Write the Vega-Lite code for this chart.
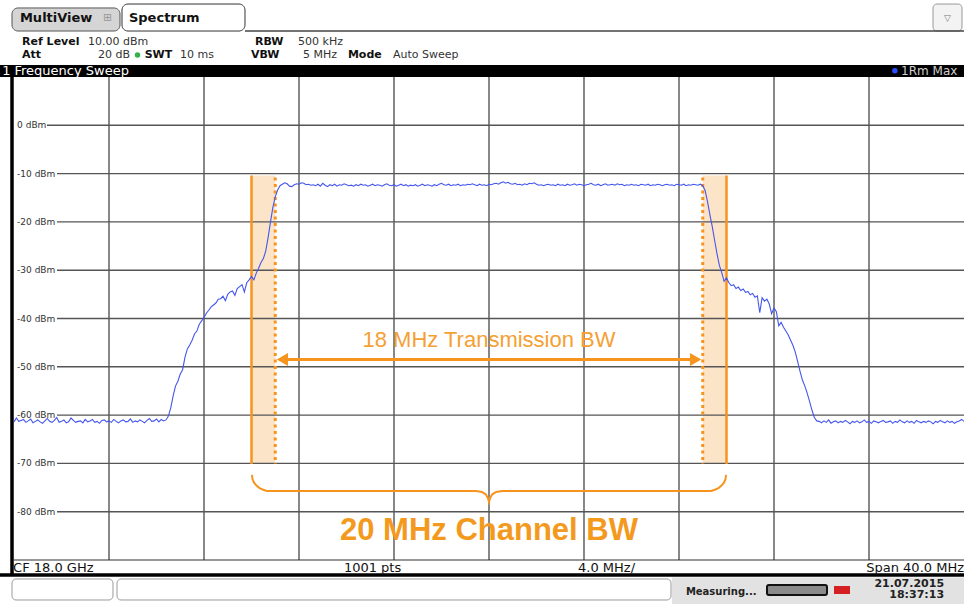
{
  "$schema": "https://vega.github.io/schema/vega-lite/v6.json",
  "width": 950,
  "height": 483,
  "autosize": {"type": "none"},
  "padding": {"left": 14, "top": 77, "right": 0, "bottom": 44},
  "background": "#ffffff",
  "config": {"view": {"stroke": null}, "font": "DejaVu Sans"},
  "datasets": {
    "trace": [
      {"f":-20.0,"p":-61.4},{"f":-19.9,"p":-60.6},{"f":-19.8,"p":-61.3},{"f":-19.7,"p":-61.1},{"f":-19.6,"p":-60.9},{"f":-19.5,"p":-61.5},{"f":-19.4,"p":-61.2},{"f":-19.3,"p":-60.8},{"f":-19.2,"p":-61.6},{"f":-19.1,"p":-61.3},
      {"f":-19.0,"p":-61.0},{"f":-18.9,"p":-61.4},{"f":-18.8,"p":-61.7},{"f":-18.7,"p":-61.2},{"f":-18.6,"p":-60.7},{"f":-18.5,"p":-61.3},{"f":-18.4,"p":-61.5},{"f":-18.3,"p":-61.1},{"f":-18.2,"p":-60.5},{"f":-18.1,"p":-61.5},
      {"f":-18.0,"p":-61.3},{"f":-17.9,"p":-61.0},{"f":-17.8,"p":-61.6},{"f":-17.7,"p":-61.4},{"f":-17.6,"p":-60.6},{"f":-17.5,"p":-61.1},{"f":-17.4,"p":-61.5},{"f":-17.3,"p":-61.3},{"f":-17.2,"p":-61.2},{"f":-17.1,"p":-61.6},
      {"f":-17.0,"p":-60.9},{"f":-16.9,"p":-61.4},{"f":-16.8,"p":-61.2},{"f":-16.7,"p":-60.9},{"f":-16.6,"p":-61.5},{"f":-16.5,"p":-61.3},{"f":-16.4,"p":-61.7},{"f":-16.3,"p":-61.1},{"f":-16.2,"p":-61.0},{"f":-16.1,"p":-61.4},
      {"f":-16.0,"p":-61.2},{"f":-15.9,"p":-61.5},{"f":-15.8,"p":-60.9},{"f":-15.7,"p":-61.3},{"f":-15.6,"p":-61.6},{"f":-15.5,"p":-61.2},{"f":-15.4,"p":-61.0},{"f":-15.3,"p":-61.4},{"f":-15.2,"p":-61.3},{"f":-15.1,"p":-60.8},
      {"f":-15.0,"p":-61.5},{"f":-14.9,"p":-61.2},{"f":-14.8,"p":-61.4},{"f":-14.7,"p":-61.0},{"f":-14.6,"p":-61.3},{"f":-14.5,"p":-61.6},{"f":-14.4,"p":-61.1},{"f":-14.3,"p":-60.7},{"f":-14.2,"p":-61.3},{"f":-14.1,"p":-61.2},
      {"f":-14.0,"p":-60.8},{"f":-13.9,"p":-61.4},{"f":-13.8,"p":-60.9},{"f":-13.7,"p":-61.2},
      {"f":-13.6,"p":-61.0},{"f":-13.5,"p":-60.2},{"f":-13.4,"p":-58.5},{"f":-13.3,"p":-56.0},{"f":-13.2,"p":-54.0},{"f":-13.1,"p":-53.0},{"f":-13.0,"p":-51.5},{"f":-12.9,"p":-50.6},{"f":-12.8,"p":-48.0},{"f":-12.7,"p":-46.3},
      {"f":-12.6,"p":-45.5},{"f":-12.5,"p":-44.5},{"f":-12.4,"p":-43.2},{"f":-12.3,"p":-42.6},{"f":-12.2,"p":-41.2},{"f":-12.1,"p":-40.5},{"f":-12.0,"p":-39.8},{"f":-11.9,"p":-38.9},{"f":-11.8,"p":-38.3},{"f":-11.7,"p":-37.6},
      {"f":-11.6,"p":-37.2},{"f":-11.5,"p":-36.8},{"f":-11.4,"p":-36.0},{"f":-11.3,"p":-35.9},{"f":-11.2,"p":-35.4},{"f":-11.1,"p":-36.3},{"f":-11.0,"p":-35.0},{"f":-10.9,"p":-34.5},{"f":-10.8,"p":-34.3},{"f":-10.7,"p":-35.2},
      {"f":-10.6,"p":-33.8},{"f":-10.5,"p":-33.4},{"f":-10.4,"p":-33.0},{"f":-10.3,"p":-34.5},{"f":-10.2,"p":-32.6},{"f":-10.1,"p":-32.0},{"f":-10.0,"p":-31.3},{"f":-9.9,"p":-32.0},{"f":-9.8,"p":-30.6},{"f":-9.7,"p":-29.6},
      {"f":-9.6,"p":-28.4},{"f":-9.5,"p":-27.6},{"f":-9.4,"p":-26.0},{"f":-9.3,"p":-23.2},{"f":-9.2,"p":-20.0},{"f":-9.1,"p":-17.0},{"f":-9.0,"p":-14.8},{"f":-8.9,"p":-13.4},{"f":-8.8,"p":-12.5},{"f":-8.7,"p":-12.2},{"f":-8.6,"p":-11.9},
      {"f":-8.5,"p":-12.1},{"f":-8.4,"p":-12.6},{"f":-8.3,"p":-12.7},{"f":-8.2,"p":-12.3},{"f":-8.1,"p":-12.1},{"f":-8.0,"p":-12.2},{"f":-7.9,"p":-11.9},{"f":-7.8,"p":-12.0},{"f":-7.7,"p":-12.3},{"f":-7.6,"p":-12.2},
      {"f":-7.5,"p":-12.4},{"f":-7.4,"p":-12.3},{"f":-7.3,"p":-12.5},{"f":-7.2,"p":-12.2},{"f":-7.1,"p":-12.6},{"f":-7.0,"p":-12.0},{"f":-6.9,"p":-12.4},{"f":-6.8,"p":-12.7},{"f":-6.7,"p":-12.3},{"f":-6.6,"p":-12.5},
      {"f":-6.5,"p":-12.2},{"f":-6.4,"p":-12.6},{"f":-6.3,"p":-12.3},{"f":-6.2,"p":-12.4},{"f":-6.1,"p":-12.1},{"f":-6.0,"p":-12.3},{"f":-5.9,"p":-12.5},{"f":-5.8,"p":-12.4},{"f":-5.7,"p":-12.6},{"f":-5.6,"p":-12.3},
      {"f":-5.5,"p":-12.5},{"f":-5.4,"p":-12.2},{"f":-5.3,"p":-12.4},{"f":-5.2,"p":-12.3},{"f":-5.1,"p":-12.6},{"f":-5.0,"p":-12.4},{"f":-4.9,"p":-12.2},{"f":-4.8,"p":-12.5},{"f":-4.7,"p":-12.3},{"f":-4.6,"p":-12.4},
      {"f":-4.5,"p":-12.6},{"f":-4.4,"p":-12.3},{"f":-4.3,"p":-12.1},{"f":-4.2,"p":-12.4},{"f":-4.1,"p":-12.5},{"f":-4.0,"p":-12.3},{"f":-3.9,"p":-12.6},{"f":-3.8,"p":-12.4},{"f":-3.7,"p":-12.2},{"f":-3.6,"p":-12.5},
      {"f":-3.5,"p":-12.3},{"f":-3.4,"p":-12.6},{"f":-3.3,"p":-12.4},{"f":-3.2,"p":-12.5},{"f":-3.1,"p":-12.3},{"f":-3.0,"p":-12.6},{"f":-2.9,"p":-12.4},{"f":-2.8,"p":-12.2},{"f":-2.7,"p":-12.5},{"f":-2.6,"p":-12.3},
      {"f":-2.5,"p":-12.4},{"f":-2.4,"p":-12.6},{"f":-2.3,"p":-12.3},{"f":-2.2,"p":-12.5},{"f":-2.1,"p":-12.2},{"f":-2.0,"p":-12.0},{"f":-1.9,"p":-12.3},{"f":-1.8,"p":-12.4},{"f":-1.7,"p":-12.2},{"f":-1.6,"p":-12.5},
      {"f":-1.5,"p":-12.3},{"f":-1.4,"p":-12.4},{"f":-1.3,"p":-12.2},{"f":-1.2,"p":-12.5},{"f":-1.1,"p":-12.3},{"f":-1.0,"p":-12.4},{"f":-0.9,"p":-12.2},{"f":-0.8,"p":-12.3},{"f":-0.7,"p":-12.1},{"f":-0.6,"p":-12.3},
      {"f":-0.5,"p":-12.5},{"f":-0.4,"p":-12.2},{"f":-0.3,"p":-12.4},{"f":-0.2,"p":-12.3},{"f":-0.1,"p":-12.5},{"f":0.0,"p":-12.2},{"f":0.1,"p":-12.3},{"f":0.2,"p":-12.1},{"f":0.3,"p":-12.0},{"f":0.4,"p":-12.2},
      {"f":0.5,"p":-11.9},{"f":0.6,"p":-11.7},{"f":0.7,"p":-12.0},{"f":0.8,"p":-11.8},{"f":0.9,"p":-12.1},{"f":1.0,"p":-12.2},{"f":1.1,"p":-12.0},{"f":1.2,"p":-12.3},{"f":1.3,"p":-12.2},{"f":1.4,"p":-12.4},
      {"f":1.5,"p":-12.1},{"f":1.6,"p":-12.3},{"f":1.7,"p":-12.0},{"f":1.8,"p":-12.1},{"f":1.9,"p":-11.9},{"f":2.0,"p":-12.2},{"f":2.1,"p":-12.4},{"f":2.2,"p":-12.3},{"f":2.3,"p":-12.5},{"f":2.4,"p":-12.3},
      {"f":2.5,"p":-12.2},{"f":2.6,"p":-12.4},{"f":2.7,"p":-12.3},{"f":2.8,"p":-12.5},{"f":2.9,"p":-12.2},{"f":3.0,"p":-12.4},{"f":3.1,"p":-12.3},{"f":3.2,"p":-12.5},{"f":3.3,"p":-12.2},{"f":3.4,"p":-12.4},
      {"f":3.5,"p":-12.3},{"f":3.6,"p":-12.1},{"f":3.7,"p":-12.4},{"f":3.8,"p":-12.2},{"f":3.9,"p":-12.3},{"f":4.0,"p":-12.5},{"f":4.1,"p":-12.3},{"f":4.2,"p":-12.2},{"f":4.3,"p":-12.0},{"f":4.4,"p":-12.3},
      {"f":4.5,"p":-12.4},{"f":4.6,"p":-12.2},{"f":4.7,"p":-12.5},{"f":4.8,"p":-12.3},{"f":4.9,"p":-12.1},{"f":5.0,"p":-12.4},{"f":5.1,"p":-12.3},{"f":5.2,"p":-12.2},{"f":5.3,"p":-12.4},{"f":5.4,"p":-12.1},
      {"f":5.5,"p":-12.3},{"f":5.6,"p":-12.2},{"f":5.7,"p":-12.5},{"f":5.8,"p":-12.3},{"f":5.9,"p":-12.4},{"f":6.0,"p":-12.2},{"f":6.1,"p":-12.4},{"f":6.2,"p":-12.3},{"f":6.3,"p":-12.5},{"f":6.4,"p":-12.2},
      {"f":6.5,"p":-12.3},{"f":6.6,"p":-12.4},{"f":6.7,"p":-12.2},{"f":6.8,"p":-12.5},{"f":6.9,"p":-12.3},{"f":7.0,"p":-12.4},{"f":7.1,"p":-12.2},{"f":7.2,"p":-12.3},{"f":7.3,"p":-12.5},{"f":7.4,"p":-12.3},
      {"f":7.5,"p":-12.2},{"f":7.6,"p":-12.4},{"f":7.7,"p":-12.3},{"f":7.8,"p":-12.5},{"f":7.9,"p":-12.2},{"f":8.0,"p":-12.3},{"f":8.1,"p":-12.4},{"f":8.2,"p":-12.2},{"f":8.3,"p":-12.5},{"f":8.4,"p":-12.3},
      {"f":8.5,"p":-12.4},{"f":8.6,"p":-12.2},{"f":8.7,"p":-12.3},{"f":8.8,"p":-12.4},{"f":8.9,"p":-12.2},{"f":9.0,"p":-12.5},
      {"f":9.1,"p":-13.5},{"f":9.2,"p":-15.8},{"f":9.3,"p":-18.5},{"f":9.4,"p":-21.0},{"f":9.5,"p":-23.8},{"f":9.6,"p":-26.6},{"f":9.7,"p":-29.0},{"f":9.8,"p":-30.5},{"f":9.9,"p":-32.3},{"f":10.0,"p":-31.6},
      {"f":10.1,"p":-32.6},{"f":10.2,"p":-33.2},{"f":10.3,"p":-33.0},{"f":10.4,"p":-33.8},{"f":10.5,"p":-33.5},{"f":10.6,"p":-34.2},{"f":10.7,"p":-33.9},{"f":10.8,"p":-34.6},{"f":10.9,"p":-34.4},{"f":11.0,"p":-35.1},
      {"f":11.1,"p":-34.8},{"f":11.2,"p":-35.6},{"f":11.3,"p":-35.3},{"f":11.4,"p":-38.8},{"f":11.5,"p":-35.7},{"f":11.6,"p":-36.4},{"f":11.7,"p":-36.0},{"f":11.8,"p":-37.0},{"f":11.9,"p":-39.0},{"f":12.0,"p":-37.8},
      {"f":12.1,"p":-38.6},{"f":12.2,"p":-41.5},{"f":12.3,"p":-40.8},{"f":12.4,"p":-41.8},{"f":12.5,"p":-42.6},{"f":12.6,"p":-43.4},{"f":12.7,"p":-44.5},{"f":12.8,"p":-45.6},{"f":12.9,"p":-47.0},{"f":13.0,"p":-49.0},
      {"f":13.1,"p":-51.0},{"f":13.2,"p":-52.8},{"f":13.3,"p":-54.0},{"f":13.4,"p":-55.5},{"f":13.5,"p":-57.2},{"f":13.6,"p":-59.0},{"f":13.7,"p":-60.5},{"f":13.8,"p":-61.2},
      {"f":13.9,"p":-61.3},{"f":14.0,"p":-61.6},{"f":14.1,"p":-61.2},{"f":14.2,"p":-61.5},{"f":14.3,"p":-61.0},{"f":14.4,"p":-61.7},{"f":14.5,"p":-61.4},{"f":14.6,"p":-61.2},{"f":14.7,"p":-61.6},{"f":14.8,"p":-61.3},
      {"f":14.9,"p":-61.5},{"f":15.0,"p":-61.1},{"f":15.1,"p":-61.4},{"f":15.2,"p":-61.8},{"f":15.3,"p":-61.3},{"f":15.4,"p":-61.5},{"f":15.5,"p":-61.2},{"f":15.6,"p":-61.6},{"f":15.7,"p":-61.4},{"f":15.8,"p":-61.0},
      {"f":15.9,"p":-61.5},{"f":16.0,"p":-61.3},{"f":16.1,"p":-61.7},{"f":16.2,"p":-61.2},{"f":16.3,"p":-61.4},{"f":16.4,"p":-61.6},{"f":16.5,"p":-61.3},{"f":16.6,"p":-61.1},{"f":16.7,"p":-61.5},{"f":16.8,"p":-61.4},
      {"f":16.9,"p":-61.2},{"f":17.0,"p":-61.7},{"f":17.1,"p":-61.3},{"f":17.2,"p":-61.5},{"f":17.3,"p":-61.0},{"f":17.4,"p":-61.4},{"f":17.5,"p":-61.6},{"f":17.6,"p":-61.2},{"f":17.7,"p":-61.5},{"f":17.8,"p":-61.3},
      {"f":17.9,"p":-61.7},{"f":18.0,"p":-61.1},{"f":18.1,"p":-61.4},{"f":18.2,"p":-61.6},{"f":18.3,"p":-61.3},{"f":18.4,"p":-61.5},{"f":18.5,"p":-61.2},{"f":18.6,"p":-61.4},{"f":18.7,"p":-61.8},{"f":18.8,"p":-61.3},
      {"f":18.9,"p":-61.5},{"f":19.0,"p":-61.1},{"f":19.1,"p":-61.4},{"f":19.2,"p":-61.6},{"f":19.3,"p":-61.2},{"f":19.4,"p":-61.5},{"f":19.5,"p":-61.3},{"f":19.6,"p":-61.7},{"f":19.7,"p":-61.4},{"f":19.8,"p":-61.2},
      {"f":19.9,"p":-60.9},{"f":20.0,"p":-61.3}
    ],
    "hgrid": [
      {"p":0,"f":-18.61,"f2":20,"lx":-19.87,"lab":"0 dBm"},
      {"p":-10,"f":-18.19,"f2":20,"lx":-19.87,"lab":"-10 dBm"},
      {"p":-20,"f":-18.19,"f2":20,"lx":-19.87,"lab":"-20 dBm"},
      {"p":-30,"f":-18.19,"f2":20,"lx":-19.87,"lab":"-30 dBm"},
      {"p":-40,"f":-18.19,"f2":20,"lx":-19.87,"lab":"-40 dBm"},
      {"p":-50,"f":-18.19,"f2":20,"lx":-19.87,"lab":"-50 dBm"},
      {"p":-60,"f":-18.19,"f2":20,"lx":-19.87,"lab":"-60 dBm"},
      {"p":-70,"f":-18.19,"f2":20,"lx":-19.87,"lab":"-70 dBm"},
      {"p":-80,"f":-18.19,"f2":20,"lx":-19.87,"lab":"-80 dBm"}
    ],
    "vgrid": [
      {"f":-16,"p":10,"p2":-90},{"f":-12,"p":10,"p2":-90},{"f":-8,"p":10,"p2":-90},{"f":-4,"p":10,"p2":-90},{"f":0,"p":10,"p2":-90},
      {"f":4,"p":10,"p2":-90},{"f":8,"p":10,"p2":-90},{"f":12,"p":10,"p2":-90},{"f":16,"p":10,"p2":-90}
    ],
    "band": [{"f":-10,"f2":-9,"p":-10.4,"p2":-70.1},{"f":9,"f2":10,"p":-10.4,"p2":-70.1}],
    "chan": [{"f":-10,"p":-10.4,"p2":-70.1},{"f":10,"p":-10.4,"p2":-70.1}],
    "tx": [{"f":-9,"p":-10.8,"p2":-70.1},{"f":9,"p":-10.8,"p2":-70.1}],
    "shaft": [{"f":-8.75,"f2":8.75,"p":-48.5}],
    "heads": [{"f":-8.7,"p":-48.5,"d":"l"},{"f":8.7,"p":-48.5,"d":"r"}],
    "brace": [
      {"f":-9.98,"p":-72.4},{"f":-9.96,"p":-73.2},{"f":-9.9,"p":-73.95},{"f":-9.79,"p":-74.6},{"f":-9.66,"p":-75.1},{"f":-9.51,"p":-75.45},{"f":-9.35,"p":-75.7},
      {"f":-0.55,"p":-75.7},{"f":-0.3,"p":-75.9},{"f":-0.14,"p":-76.4},{"f":-0.05,"p":-77.1},{"f":0,"p":-78.0},{"f":0.05,"p":-77.1},{"f":0.14,"p":-76.4},{"f":0.3,"p":-75.9},{"f":0.55,"p":-75.7},
      {"f":9.35,"p":-75.7},{"f":9.51,"p":-75.45},{"f":9.66,"p":-75.1},{"f":9.79,"p":-74.6},{"f":9.9,"p":-73.95},{"f":9.96,"p":-73.2},{"f":9.98,"p":-72.4}
    ],
    "ui": [
      {"k":"status","f":7.7,"f2":20,"p":-93.6,"p2":-99.2},
      {"k":"box","f":-20.084,"f2":-15.832,"p":-93.93,"p2":-98.28},
      {"k":"box","f":-15.663,"f2":7.663,"p":-93.93,"p2":-98.28},
      {"k":"tab0","f":-20.084,"f2":-15.537,"p":24.29,"p2":19.52},
      {"k":"tab1","f":-15.453,"f2":-10.274,"p":25.11,"p2":19.52},
      {"k":"btn","f":18.695,"f2":19.916,"p":25.11,"p2":19.52},
      {"k":"bar","f":-20.59,"f2":20,"p":12.48,"p2":10},
      {"k":"prog","f":11.705,"f2":14.232,"p":-95.18,"p2":-97.25},
      {"k":"red","f":14.526,"f2":15.2,"p":-95.38,"p2":-97.04}
    ],
    "ln": [
      {"k":"hdr","f":-10.274,"f2":20,"p":19.52,"p2":19.52},
      {"k":"thick","f":-20.59,"f2":20,"p":-93.1,"p2":-93.1},
      {"k":"thick","f":-20.084,"f2":-20.084,"p":12.0,"p2":-93.1},
      {"k":"thin","f":-20,"f2":20,"p":-90,"p2":-90}
    ],
    "txt": [
      {"k":"tab","t":"MultiView","f":-19.75,"p":22.15},
      {"k":"tab","t":"Spectrum","f":-15.16,"p":22.15},
      {"k":"icon","t":"⊞","f":-16.25,"p":22.15},
      {"k":"key","t":"Ref Level","f":-19.66,"p":17.31},
      {"k":"val","t":"10.00 dBm","f":-16.88,"p":17.31},
      {"k":"key","t":"RBW","f":-9.85,"p":17.31},
      {"k":"val","t":"500 kHz","f":-8.04,"p":17.31},
      {"k":"key","t":"Att","f":-19.66,"p":14.55},
      {"k":"val","t":"20 dB","f":-16.46,"p":14.55},
      {"k":"key","t":"SWT","f":-14.5,"p":14.55},
      {"k":"val","t":"10 ms","f":-13.01,"p":14.55},
      {"k":"key","t":"VBW","f":-10.02,"p":14.55},
      {"k":"val","t":"5 MHz","f":-7.83,"p":14.55},
      {"k":"key","t":"Mode","f":-5.94,"p":14.55},
      {"k":"val","t":"Auto Sweep","f":-4.04,"p":14.55},
      {"k":"bar","t":"1 Frequency Sweep","f":-20.5,"p":11.24},
      {"k":"rm","t":"1Rm Max","f":17.35,"p":11.24},
      {"k":"cf","t":"CF 18.0 GHz","f":-20.04,"p":-91.66},
      {"k":"cf","t":"1001 pts","f":-6.11,"p":-91.66},
      {"k":"cf","t":"4.0 MHz/","f":3.75,"p":-91.66},
      {"k":"span","t":"Span 40.0 MHz","f":20,"p":-91.66},
      {"k":"stat","t":"Measuring...","f":8.29,"p":-96.6},
      {"k":"date","t":"21.07.2015","f":19.16,"p":-94.9},
      {"k":"date","t":"18:37:13","f":19.16,"p":-97.25},
      {"k":"btnt","t":"▽","f":19.3,"p":22.2}
    ],
    "dots": [{"k":"g","f":-14.8,"p":14.55},{"k":"b","f":17.09,"p":11.3}],
    "notes": [
      {"k":"tx","t":"18 MHz Transmission BW","f":0,"p":-44.45},
      {"k":"ch","t":"20 MHz Channel BW","f":0,"p":-84.0}
    ]
  },
  "encoding": {
    "x": {"field": "f", "type": "quantitative", "scale": {"domain": [-20, 20], "nice": false, "zero": false}, "axis": null},
    "y": {"field": "p", "type": "quantitative", "scale": {"domain": [-90, 10], "nice": false, "zero": false}, "axis": null}
  },
  "layer": [
    {"data": {"name": "ui"}, "transform": [{"filter": "datum.k == 'status'"}], "mark": {"type": "rect", "fill": "#e2e2e2"}, "encoding": {"x2": {"field": "f2"}, "y2": {"field": "p2"}}},
    {"data": {"name": "ui"}, "transform": [{"filter": "datum.k == 'box'"}], "mark": {"type": "rect", "fill": "#ffffff", "stroke": "#9a9a9a", "strokeWidth": 1, "cornerRadius": 4}, "encoding": {"x2": {"field": "f2"}, "y2": {"field": "p2"}}},
    {"data": {"name": "ui"}, "transform": [{"filter": "datum.k == 'tab0'"}], "mark": {"type": "rect", "fill": "#d5d5d5", "stroke": "#555555", "strokeWidth": 1, "cornerRadius": 6}, "encoding": {"x2": {"field": "f2"}, "y2": {"field": "p2"}}},
    {"data": {"name": "ui"}, "transform": [{"filter": "datum.k == 'tab1'"}], "mark": {"type": "rect", "fill": "#ffffff", "stroke": "#333333", "strokeWidth": 1, "cornerRadius": 6}, "encoding": {"x2": {"field": "f2"}, "y2": {"field": "p2"}}},
    {"data": {"name": "ui"}, "transform": [{"filter": "datum.k == 'btn'"}], "mark": {"type": "rect", "fill": "#f3f3f3", "stroke": "#999999", "strokeWidth": 1, "cornerRadius": 4}, "encoding": {"x2": {"field": "f2"}, "y2": {"field": "p2"}}},
    {"data": {"name": "ui"}, "transform": [{"filter": "datum.k == 'bar'"}], "mark": {"type": "rect", "fill": "#000000"}, "encoding": {"x2": {"field": "f2"}, "y2": {"field": "p2"}}},
    {"data": {"name": "ui"}, "transform": [{"filter": "datum.k == 'prog'"}], "mark": {"type": "rect", "fill": "#8a8a8a", "stroke": "#111111", "strokeWidth": 2, "cornerRadius": 2}, "encoding": {"x2": {"field": "f2"}, "y2": {"field": "p2"}}},
    {"data": {"name": "ui"}, "transform": [{"filter": "datum.k == 'red'"}], "mark": {"type": "rect", "fill": "#d42020"}, "encoding": {"x2": {"field": "f2"}, "y2": {"field": "p2"}}},
    {"data": {"name": "band"}, "mark": {"type": "rect", "fill": "#fce4c9"}, "encoding": {"x2": {"field": "f2"}, "y2": {"field": "p2"}}},
    {"data": {"name": "vgrid"}, "mark": {"type": "rule", "stroke": "#555555", "strokeWidth": 1.4}, "encoding": {"y2": {"field": "p2"}}},
    {"data": {"name": "hgrid"}, "mark": {"type": "rule", "stroke": "#555555", "strokeWidth": 1.4}, "encoding": {"x2": {"field": "f2"}}},
    {"data": {"name": "hgrid"}, "mark": {"type": "text", "align": "left", "baseline": "middle", "fontSize": 9, "fill": "#333333", "font": "DejaVu Sans"}, "encoding": {"x": {"field": "lx", "type": "quantitative"}, "text": {"field": "lab"}}},
    {"data": {"name": "ln"}, "transform": [{"filter": "datum.k == 'hdr'"}], "mark": {"type": "rule", "stroke": "#444444", "strokeWidth": 1.5}, "encoding": {"x2": {"field": "f2"}, "y2": {"field": "p2"}}},
    {"data": {"name": "ln"}, "transform": [{"filter": "datum.k == 'thin'"}], "mark": {"type": "rule", "stroke": "#333333", "strokeWidth": 1.2}, "encoding": {"x2": {"field": "f2"}, "y2": {"field": "p2"}}},
    {"data": {"name": "ln"}, "transform": [{"filter": "datum.k == 'thick'"}], "mark": {"type": "rule", "stroke": "#000000", "strokeWidth": 3.5}, "encoding": {"x2": {"field": "f2"}, "y2": {"field": "p2"}}},
    {"data": {"name": "chan"}, "mark": {"type": "rule", "stroke": "#f7941d", "strokeWidth": 2.5}, "encoding": {"y2": {"field": "p2"}}},
    {"data": {"name": "tx"}, "mark": {"type": "rule", "stroke": "#f7941d", "strokeWidth": 3, "strokeDash": [3, 3.5]}, "encoding": {"y2": {"field": "p2"}}},
    {"data": {"name": "trace"}, "mark": {"type": "line", "stroke": "#4456ee", "strokeWidth": 1.1, "interpolate": "linear"}, "encoding": {}},
    {"data": {"name": "shaft"}, "mark": {"type": "rule", "stroke": "#f7941d", "strokeWidth": 3}, "encoding": {"x2": {"field": "f2"}}},
    {"data": {"name": "heads"}, "mark": {"type": "point", "filled": true, "fill": "#f7941d", "opacity": 1, "strokeWidth": 0}, "encoding": {"shape": {"field": "d", "type": "nominal", "scale": {"domain": ["l", "r"], "range": ["triangle-left", "triangle-right"]}, "legend": null}, "size": {"value": 170}}},
    {"data": {"name": "brace"}, "mark": {"type": "line", "stroke": "#f7941d", "strokeWidth": 2, "interpolate": "linear"}, "encoding": {}},
    {"data": {"name": "notes"}, "transform": [{"filter": "datum.k == 'tx'"}], "mark": {"type": "text", "align": "center", "baseline": "middle", "font": "Liberation Sans", "fontSize": 22, "fill": "#f5a033"}, "encoding": {"text": {"field": "t"}}},
    {"data": {"name": "notes"}, "transform": [{"filter": "datum.k == 'ch'"}], "mark": {"type": "text", "align": "center", "baseline": "middle", "font": "Liberation Sans", "fontSize": 31, "fontWeight": "bold", "fill": "#f39a1e"}, "encoding": {"text": {"field": "t"}}},
    {"data": {"name": "txt"}, "transform": [{"filter": "datum.k == 'tab'"}], "mark": {"type": "text", "align": "left", "baseline": "middle", "fontSize": 13, "fontWeight": "bold", "fill": "#111111"}, "encoding": {"text": {"field": "t"}}},
    {"data": {"name": "txt"}, "transform": [{"filter": "datum.k == 'icon'"}], "mark": {"type": "text", "align": "left", "baseline": "middle", "fontSize": 11, "fill": "#999999"}, "encoding": {"text": {"field": "t"}}},
    {"data": {"name": "txt"}, "transform": [{"filter": "datum.k == 'btnt'"}], "mark": {"type": "text", "align": "center", "baseline": "middle", "fontSize": 9, "fill": "#777777"}, "encoding": {"text": {"field": "t"}}},
    {"data": {"name": "txt"}, "transform": [{"filter": "datum.k == 'key'"}], "mark": {"type": "text", "align": "left", "baseline": "middle", "fontSize": 11, "fontWeight": "bold", "fill": "#111111"}, "encoding": {"text": {"field": "t"}}},
    {"data": {"name": "txt"}, "transform": [{"filter": "datum.k == 'val'"}], "mark": {"type": "text", "align": "left", "baseline": "middle", "fontSize": 11, "fill": "#333333"}, "encoding": {"text": {"field": "t"}}},
    {"data": {"name": "txt"}, "transform": [{"filter": "datum.k == 'bar'"}], "mark": {"type": "text", "align": "left", "baseline": "middle", "fontSize": 13, "fill": "#ffffff"}, "encoding": {"text": {"field": "t"}}},
    {"data": {"name": "txt"}, "transform": [{"filter": "datum.k == 'rm'"}], "mark": {"type": "text", "align": "left", "baseline": "middle", "fontSize": 12, "fill": "#cfcfcf"}, "encoding": {"text": {"field": "t"}}},
    {"data": {"name": "txt"}, "transform": [{"filter": "datum.k == 'cf'"}], "mark": {"type": "text", "align": "left", "baseline": "middle", "fontSize": 13, "fill": "#111111"}, "encoding": {"text": {"field": "t"}}},
    {"data": {"name": "txt"}, "transform": [{"filter": "datum.k == 'span'"}], "mark": {"type": "text", "align": "right", "baseline": "middle", "fontSize": 13, "fill": "#111111"}, "encoding": {"text": {"field": "t"}}},
    {"data": {"name": "txt"}, "transform": [{"filter": "datum.k == 'stat'"}], "mark": {"type": "text", "align": "left", "baseline": "middle", "fontSize": 10, "fontWeight": "bold", "fill": "#222222"}, "encoding": {"text": {"field": "t"}}},
    {"data": {"name": "txt"}, "transform": [{"filter": "datum.k == 'date'"}], "mark": {"type": "text", "align": "right", "baseline": "middle", "fontSize": 11, "fontWeight": "bold", "fill": "#222222"}, "encoding": {"text": {"field": "t"}}},
    {"data": {"name": "dots"}, "mark": {"type": "point", "filled": true, "size": 30, "opacity": 1}, "encoding": {"color": {"field": "k", "type": "nominal", "scale": {"domain": ["g", "b"], "range": ["#2fb34a", "#2a4dff"]}, "legend": null}}}
  ]
}
